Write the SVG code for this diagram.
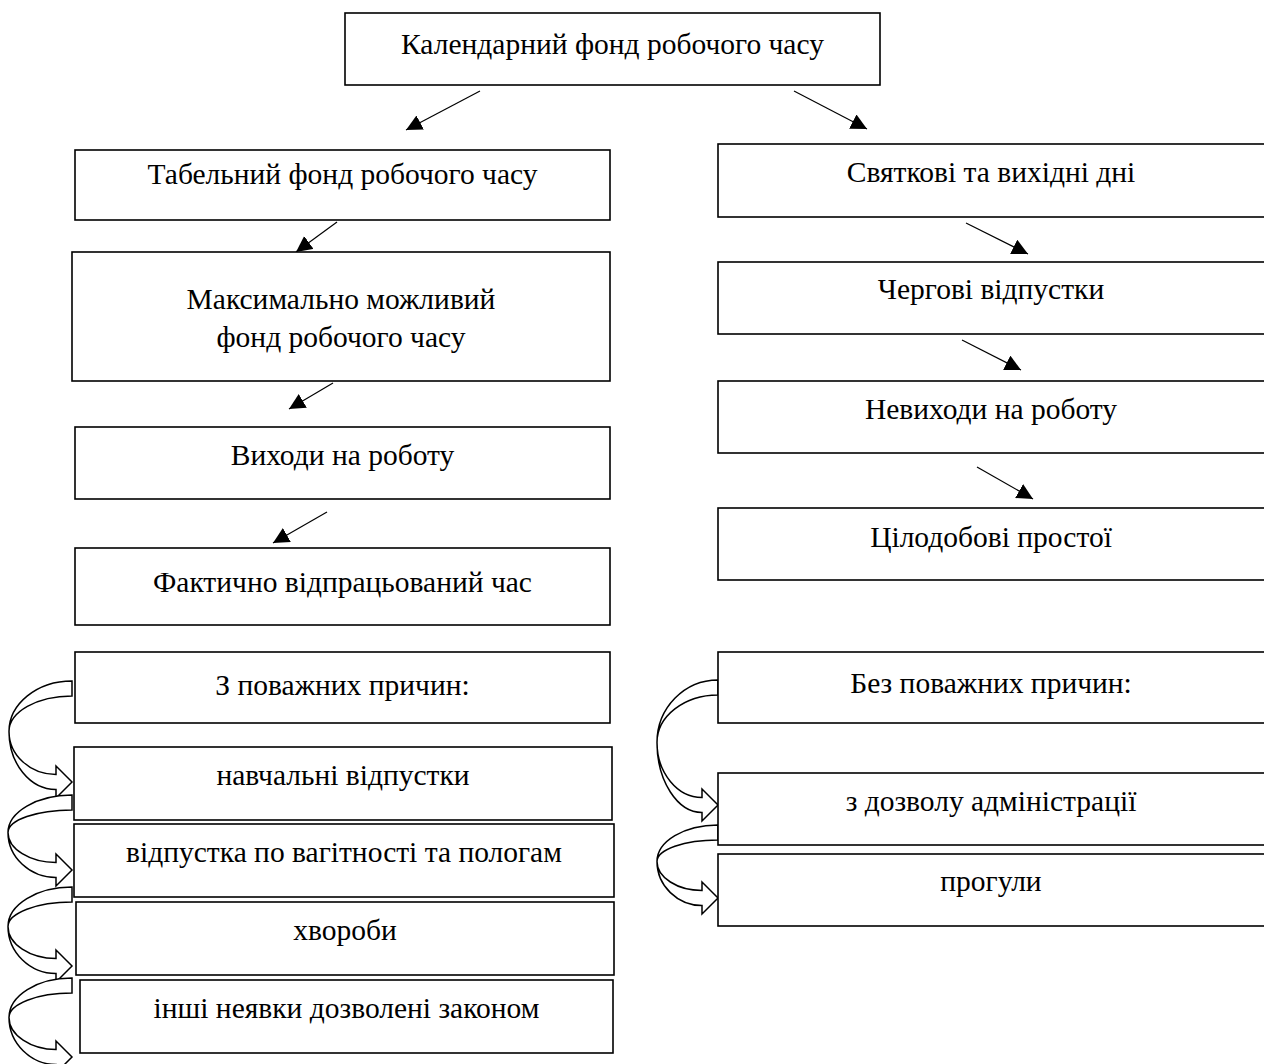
<svg xmlns="http://www.w3.org/2000/svg" width="1264" height="1064" viewBox="0 0 1264 1064">
<style>
.box{fill:#fff;stroke:#000;stroke-width:1.6}
.t{font-family:"Liberation Serif","Times New Roman",serif;font-size:29.5px;fill:#000;text-anchor:middle}
.ln{stroke:#000;stroke-width:1.2;fill:none;marker-end:url(#ah)}
.ca{fill:#fff;stroke:#000;stroke-width:1.5;stroke-linejoin:miter}
</style>
<defs>
<marker id="ah" markerUnits="userSpaceOnUse" markerWidth="18" markerHeight="18" refX="16" refY="8" orient="auto">
<path d="M0,0 L16,8 L0,16 z" fill="#000"/>
</marker>
</defs>
<rect width="1264" height="1064" fill="#fff"/>
<g id="connectors">
<line class="ln" x1="480" y1="91" x2="406" y2="130"/>
<line class="ln" x1="794" y1="91" x2="867" y2="129"/>
<line class="ln" x1="337" y1="222" x2="296" y2="252"/>
<line class="ln" x1="333" y1="383" x2="289" y2="409"/>
<line class="ln" x1="327" y1="512" x2="273" y2="543"/>
<line class="ln" x1="966" y1="223" x2="1028" y2="254"/>
<line class="ln" x1="962" y1="340" x2="1021" y2="370"/>
<line class="ln" x1="977" y1="467" x2="1033" y2="499"/>
<path class="ca" d="M72,681 C37,681 9,704 9,731.5 C9,755 30,774.5 56,774.5 L56,766 L72,782 L56,798 L56,789.5 C30,789.5 9,763.5 9,731.5 C9,712 37,696 72,696 Z"/>
<path class="ca" d="M72,795 C37,795 8,812 8,832.5 C8,849 30,862.5 56,862.5 L56,854 L72,870 L56,886 L56,877.5 C30,877.5 8,857.3 8,832.5 C8,820 37,810 72,810 Z"/>
<path class="ca" d="M72,887 C37,887 8,904.7 8,926.5 C8,944.2 30,958.5 56,958.5 L56,950 L72,966 L56,982 L56,973.5 C30,973.5 8,952.4 8,926.5 C8,913 37,902 72,902 Z"/>
<path class="ca" d="M72,978 C37,978 9,995.7 9,1017.5 C9,1035.2 31,1049.5 56,1049.5 L56,1041 L72,1057 L56,1073 L56,1064.5 C31,1064.5 9,1043.4 9,1017.5 C9,1004 37,993 72,993 Z"/>
<path class="ca" d="M718,680 C684.3,680 657,708 657,742.5 C657,772.9 677.6,797.5 702,797.5 L702,789 L718,805 L702,821 L702,812.5 C677.6,812.5 657,781.1 657,742.5 C657,716.3 684.3,695 718,695 Z"/>
<path class="ca" d="M718,825 C684.3,825 657,841.4 657,861.5 C657,877.5 677.6,890.5 702,890.5 L702,882 L718,898 L702,914 L702,905.5 C677.6,905.5 657,885.8 657,861.5 C657,849.6 684.3,840 718,840 Z"/>
</g>
<g id="n-calendar"><rect class="box" x="345" y="13" width="535" height="72"/><text class="t" x="612.5" y="54">Календарний фонд робочого часу</text></g>
<g id="n-tabel"><rect class="box" x="75" y="150" width="535" height="70"/><text class="t" x="342.5" y="184">Табельний фонд робочого часу</text></g>
<g id="n-max"><rect class="box" x="72" y="252" width="538" height="129"/><text class="t" x="341" y="309">Максимально можливий</text><text class="t" x="341" y="347">фонд робочого часу</text></g>
<g id="n-vykhody"><rect class="box" x="75" y="427" width="535" height="72"/><text class="t" x="342.5" y="465">Виходи на роботу</text></g>
<g id="n-fakt"><rect class="box" x="75" y="548" width="535" height="77"/><text class="t" x="342.5" y="592">Фактично відпрацьований час</text></g>
<g id="n-povazh"><rect class="box" x="75" y="652" width="535" height="71"/><text class="t" x="342.5" y="695">З поважних причин:</text></g>
<g id="n-navch"><rect class="box" x="74" y="747" width="538" height="73"/><text class="t" x="343" y="785">навчальні відпустки</text></g>
<g id="n-vagit"><rect class="box" x="74" y="824" width="540" height="73"/><text class="t" x="344" y="862">відпустка по вагітності та пологам</text></g>
<g id="n-khvor"><rect class="box" x="76" y="902" width="538" height="73"/><text class="t" x="345" y="940">хвороби</text></g>
<g id="n-inshi"><rect class="box" x="80" y="980" width="533" height="73"/><text class="t" x="346.5" y="1018">інші неявки дозволені законом</text></g>
<g id="n-sviat"><rect class="box" x="718" y="144" width="548" height="73"/><text class="t" x="991" y="182">Святкові та вихідні дні</text></g>
<g id="n-cherg"><rect class="box" x="718" y="262" width="548" height="72"/><text class="t" x="991" y="299">Чергові відпустки</text></g>
<g id="n-nevykh"><rect class="box" x="718" y="381" width="548" height="72"/><text class="t" x="991" y="419">Невиходи на роботу</text></g>
<g id="n-tsilod"><rect class="box" x="718" y="508" width="548" height="72"/><text class="t" x="991" y="547">Цілодобові простої</text></g>
<g id="n-bez"><rect class="box" x="718" y="652" width="548" height="71"/><text class="t" x="991" y="693">Без поважних причин:</text></g>
<g id="n-dozvil"><rect class="box" x="718" y="773" width="548" height="72"/><text class="t" x="991" y="811">з дозволу адміністрації</text></g>
<g id="n-progul"><rect class="box" x="718" y="854" width="548" height="72"/><text class="t" x="991" y="891">прогули</text></g>
</svg>
